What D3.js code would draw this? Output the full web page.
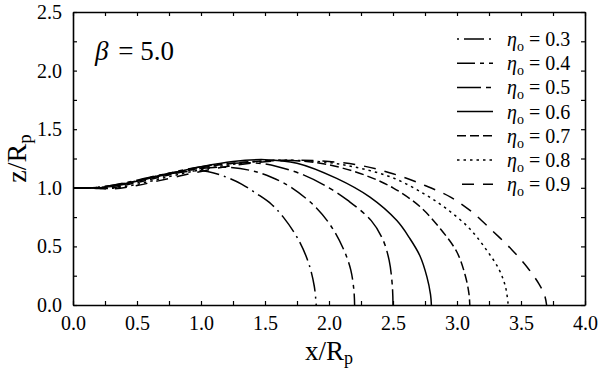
<!DOCTYPE html>
<html>
<head>
<meta charset="utf-8">
<script src="https://cdn.jsdelivr.net/npm/d3@7"></script>
<style>
  body { margin: 0; background: #fff; }
  svg text { font-family: "Liberation Serif", "Times New Roman", serif; fill: #000; }
</style>
</head>
<body>
<div id="chart"></div>
<script>

// svg variables
var width = 600,
    height = 370;

var margin = {top: 12, right: 15, bottom: 65, left: 73};

// data variables

var etaValues = ["0.3", "0.4", "0.5", "0.6", "0.7", "0.8", "0.9"];

var xTickLabels = ["0.0", "0.5", "1.0", "1.5", "2.0", "2.5", "3.0", "3.5", "4.0"];
var yTickLabels = ["0.0", "0.5", "1.0", "1.5", "2.0", "2.5"];

// [x/Rp, z/Rp] for each eta_o
var eta03 = [[0,1.0],[0.15,1.0],[0.3,1.02],[0.5,1.06],[0.7,1.11],[0.9,1.14],[1.05,1.14],[1.2,1.09],[1.32,1.03],[1.435,0.95],[1.55,0.86],[1.643,0.75],[1.76,0.56],[1.84,0.36],[1.885,0.16],[1.9,0.0]];
var eta04 = [[0,1.0],[0.15,1.0],[0.3,1.02],[0.5,1.065],[0.75,1.125],[1.0,1.165],[1.2,1.175],[1.4,1.145],[1.55,1.09],[1.71,1.0],[1.9,0.83],[2.03,0.65],[2.12,0.46],[2.17,0.3],[2.195,0.12],[2.2,0.0]];
var eta05 = [[0,1.0],[0.15,1.0],[0.3,1.015],[0.5,1.06],[0.75,1.125],[1.0,1.18],[1.25,1.21],[1.45,1.21],[1.6,1.18],[1.8,1.11],[2.0,1.0],[2.15,0.89],[2.33,0.72],[2.42,0.56],[2.47,0.38],[2.495,0.16],[2.5,0.0]];
var eta06 = [[0,1.0],[0.15,1.0],[0.3,1.01],[0.5,1.055],[0.75,1.12],[1.0,1.18],[1.25,1.225],[1.5,1.24],[1.75,1.21],[2.06,1.08],[2.32,0.92],[2.53,0.72],[2.63,0.57],[2.71,0.42],[2.765,0.24],[2.793,0.09],[2.8,0.0]];
var eta07 = [[0,1.0],[0.15,1.0],[0.3,1.0],[0.5,1.045],[0.75,1.11],[1.0,1.17],[1.25,1.21],[1.5,1.23],[1.65,1.235],[1.9,1.215],[2.1,1.17],[2.3,1.1],[2.5,1.0],[2.71,0.84],[2.87,0.65],[3.0,0.45],[3.065,0.25],[3.093,0.1],[3.1,0.0]];
var eta08 = [[0,1.0],[0.15,0.998],[0.3,0.995],[0.5,1.03],[0.75,1.095],[1.0,1.155],[1.25,1.2],[1.5,1.228],[1.7,1.235],[2.0,1.215],[2.25,1.165],[2.5,1.085],[2.74,0.95],[2.92,0.82],[3.1,0.65],[3.23,0.47],[3.33,0.3],[3.38,0.15],[3.4,0.0]];
var eta09 = [[0,1.0],[0.15,0.997],[0.3,0.99],[0.5,1.02],[0.75,1.08],[1.0,1.14],[1.25,1.19],[1.5,1.222],[1.75,1.235],[2.0,1.225],[2.25,1.19],[2.5,1.12],[2.75,1.02],[2.95,0.92],[3.11,0.8],[3.27,0.64],[3.43,0.47],[3.55,0.32],[3.64,0.18],[3.685,0.08],[3.7,0.0]];

var curves = [eta03, eta04, eta05, eta06, eta07, eta08, eta09];

// line styles, same order as etaValues
var dashes = ["20,5,2,5", "18,5,4,5", "24,5,5,5", "none", "9,4", "2.5,4", "12,9"];
var legendOffset = [25, 0, 0, 0, 0, 0, 16];

/////////////////////////////
// scales + drawing board
/////////////////////////////

var x = d3.scaleLinear()
    .domain([0, 4])
    .range([margin.left, width - margin.right]);

var y = d3.scaleLinear()
    .domain([0, 2.5])
    .range([height - margin.bottom, margin.top]);

var svg = d3.select("#chart")
    .append("svg")
    .attr("width", width)
    .attr("height", height);

// quarter ticks, only the halves get a label
var xTickVals = d3.range(0, 4.001, 0.25);
var yTickVals = d3.range(0, 2.501, 0.25);

function label(list) {
    return function (d) {
        var s = d3.format(".1f")(d);
        return list.indexOf(s) > -1 && Math.abs(d * 2 - Math.round(d * 2)) < 1e-6 ? s : "";
    };
}

var axisB = svg.append("g")
    .attr("transform", "translate(0," + y(0) + ")")
    .call(d3.axisBottom(x).tickValues(xTickVals).tickSize(-4).tickSizeOuter(0)
        .tickPadding(11).tickFormat(label(xTickLabels)));

var axisL = svg.append("g")
    .attr("transform", "translate(" + x(0) + ",0)")
    .call(d3.axisLeft(y).tickValues(yTickVals).tickSize(-4).tickSizeOuter(0)
        .tickPadding(11).tickFormat(label(yTickLabels)));

var axisT = svg.append("g")
    .attr("transform", "translate(0," + y(2.5) + ")")
    .call(d3.axisTop(x).tickValues(xTickVals).tickSize(-4).tickSizeOuter(0).tickFormat(""));

var axisR = svg.append("g")
    .attr("transform", "translate(" + x(4) + ",0)")
    .call(d3.axisRight(y).tickValues(yTickVals).tickSize(-4).tickSizeOuter(0).tickFormat(""));

[axisB, axisL, axisT, axisR].forEach(function (g) {
    g.select(".domain").attr("stroke", "#000").attr("stroke-width", 1.6);
    g.selectAll(".tick line").attr("stroke", "#000").attr("stroke-width", 1.2);
    g.selectAll(".tick text")
        .attr("fill", "#000")
        .style("font-size", "20px")
        .style("font-family", "'Liberation Serif', 'Times New Roman', serif");
});

/////////////////////////////
// curves
/////////////////////////////

var line = d3.line()
    .x(function (d) { return x(d[0]); })
    .y(function (d) { return y(d[1]); })
    .curve(d3.curveCatmullRom.alpha(0.5));

svg.append("g")
    .selectAll("path")
    .data(curves)
    .enter()
    .append("path")
    .attr("d", line)
    .attr("fill", "none")
    .attr("stroke", "#000")
    .attr("stroke-width", 1.5)
    .attr("stroke-dasharray", function (d, i) { return dashes[i]; });

/////////////////////////////
// legend
/////////////////////////////

var legend = svg.append("g").attr("class", "legend");

etaValues.forEach(function (v, i) {
    var ly = 39 + i * 24.2;
    legend.append("line")
        .attr("x1", 457).attr("x2", 493)
        .attr("y1", ly).attr("y2", ly)
        .attr("stroke", "#000")
        .attr("stroke-width", 1.5)
        .attr("stroke-dasharray", dashes[i])
        .attr("stroke-dashoffset", legendOffset[i]);

    var t = legend.append("text")
        .attr("x", 507)
        .attr("y", ly + 7)
        .style("font-size", "20px");
    t.append("tspan").style("font-style", "italic").text("\u03b7");
    t.append("tspan").style("font-size", "14px").attr("dy", 5).text("o");
    t.append("tspan").attr("dy", -5).text(" = " + v);
});

// beta label
var beta = svg.append("text")
    .attr("x", 95)
    .attr("y", 60)
    .style("font-size", "27px");
beta.append("tspan").style("font-style", "italic").text("\u03b2");
beta.append("tspan").attr("dx", 3).text(" = 5.0");

/////////////////////////////
// axis titles
/////////////////////////////

var xt = svg.append("text")
    .attr("x", (x(0) + x(4)) / 2)
    .attr("y", 360)
    .attr("text-anchor", "middle")
    .style("font-size", "27px");
xt.append("tspan").text("x/R");
xt.append("tspan").attr("dy", 4).style("font-size", "18px").text("p");

var yt = svg.append("text")
    .attr("transform", "translate(26," + (y(0) + y(2.5)) / 2 + ") rotate(-90)")
    .attr("text-anchor", "middle")
    .style("font-size", "28px");
yt.append("tspan").text("z/R");
yt.append("tspan").attr("dy", 5).style("font-size", "19px").text("p");

</script>
</body>
</html>
